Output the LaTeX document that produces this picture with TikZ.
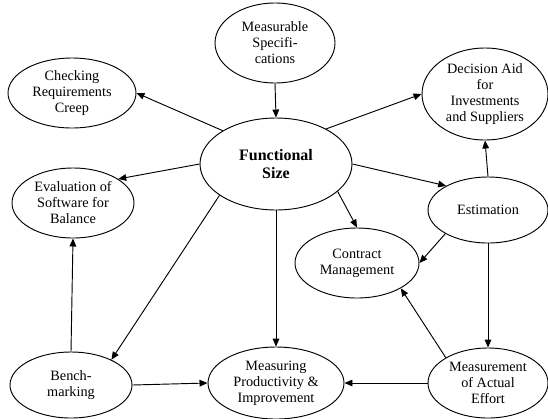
\documentclass[tikz,border=0pt]{standalone}
\usepackage{fontspec}
\setmainfont{Liberation Serif}
\usetikzlibrary{arrows.meta,shapes.geometric}
\tikzset{
  bubble/.style={draw, ellipse, inner sep=0pt, align=center, line width=0.7pt,
    font=\fontsize{10.7}{12}\selectfont},
  link/.style={-{Triangle[length=6pt,width=5pt]}, line width=0.7pt}
}
\begin{document}
\begin{tikzpicture}[x=0.75pt,y=-0.75pt]
\useasboundingbox (0,0) rectangle (548,418);
% the ten bubbles
\node[bubble, minimum width=90pt, minimum height=60pt] (ms) at (275,43) {Measurable\\Specifi-\\cations};
\node[bubble, minimum width=96pt, minimum height=52.5pt] (crc) at (72,93) {Checking\\Requirements\\Creep};
\node[bubble, minimum width=94.5pt, minimum height=69pt] (dec) at (485,94) {Decision Aid\\for\\Investments\\and Suppliers};
\node[bubble, minimum width=114pt, minimum height=69pt, font=\fontsize{12}{13.5}\selectfont\bfseries] (fs) at (276,164) {Functional\\Size};
\node[bubble, minimum width=91.5pt, minimum height=52.5pt] (eval) at (73,203) {Evaluation of\\Software for\\Balance};
\node[bubble, minimum width=90pt, minimum height=49.5pt] (est) at (488,210) {Estimation};
\node[bubble, minimum width=93pt, minimum height=52.5pt] (cm) at (357,263) {Contract\\Management};
\node[bubble, minimum width=91.5pt, minimum height=49.5pt] (bench) at (71,385) {Bench-\\marking};
\node[bubble, minimum width=102pt, minimum height=54pt] (mp) at (276,383) {Measuring\\Productivity \&\\Improvement};
\node[bubble, minimum width=90pt, minimum height=52.5pt] (mae) at (488,383) {Measurement\\of Actual\\Effort};
% arrows out of the centre
\draw[link] (ms.south) -- (fs.north);
\draw[link] (fs.148) -- (crc.east);
\draw[link] (fs.35) -- (dec.west);
\draw[link] (fs.west) -- (eval.28);
\draw[link] (fs.east) -- (est.150);
\draw[link] (fs.-24) -- (cm.north);
\draw[link] (fs.209) -- (bench.32);
\draw[link] (fs.south) -- (mp.north);
% the others
\draw[link] (est.north) -- (dec.south);
\draw[link] (est.209) -- (cm.east);
\draw[link] (est.south) -- (mae.north);
\draw[link] (mae.149) -- (cm.330);
\draw[link] (mae.west) -- (mp.east);
\draw[link] (bench.east) -- (mp.west);
\draw[link] (bench.north) -- (eval.south);
\end{tikzpicture}
\end{document}
